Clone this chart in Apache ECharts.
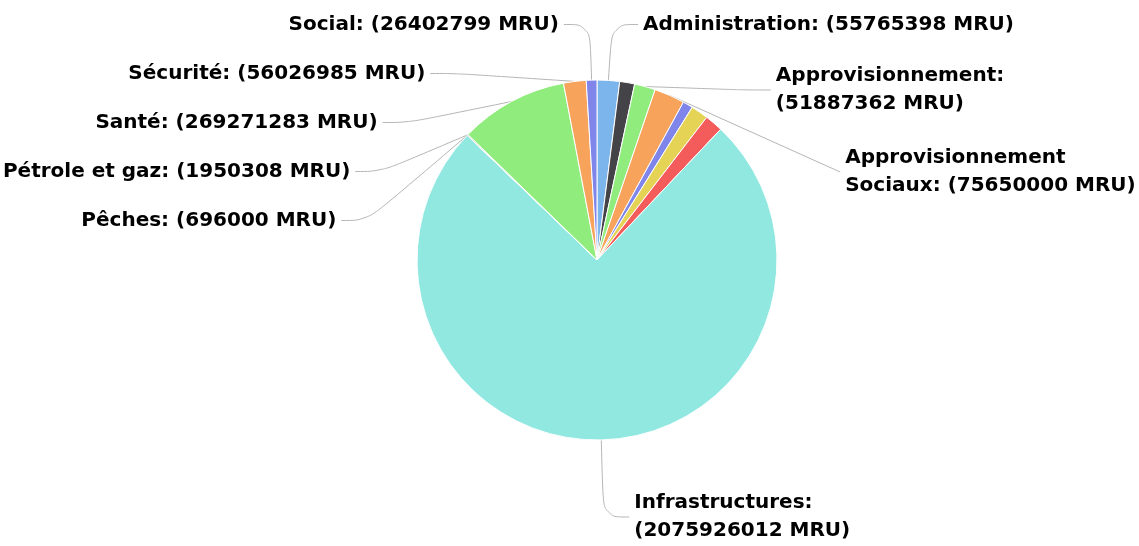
<!DOCTYPE html>
<html>
<head>
<meta charset="utf-8">
<script src="https://cdn.jsdelivr.net/npm/echarts@6/dist/echarts.min.js"></script>
<style>
  html, body { margin: 0; padding: 0; background: #fff; }
  #chart { width: 1139px; height: 546px; }
</style>
</head>
<body>
<div id="chart"></div>
<script>
// slices, clockwise from 12 o'clock (empty name = slice without a label)
const names = [
  "Administration", "", "Approvisionnement", "Approvisionnement Sociaux",
  "", "", "", "Infrastructures", "Pêches", "Pétrole et gaz",
  "Santé", "Sécurité", "Social"
];
const values = [
  55765398, 37000000, 51887362, 75650000,
  25000000, 43000000, 45000000, 2075926012, 696000, 1950308,
  269271283, 56026985, 26402799
];
const colors = [
  "#7cb5ec", "#434348", "#90ed7d", "#f7a35c",
  "#8085e9", "#e4d354", "#f45b5b", "#91e8e1", "#7cb5ec", "#434348",
  "#90ed7d", "#f7a35c", "#8085e9"
];
// labels that wrap on two lines, and their max width
const wrapWidth = { "Approvisionnement": 240, "Approvisionnement Sociaux": 310, "Infrastructures": 230 };

const chart = echarts.init(document.getElementById("chart"));

const data = names.map((n, i) => {
  const item = { name: n, value: values[i], itemStyle: { color: colors[i] } };
  if (n === "") {
    item.label = { show: false };
    item.labelLine = { show: false };
    return item;
  }
  if (wrapWidth[n]) {
    item.label = { width: wrapWidth[n], overflow: "break", padding: [12, 0] };
  }
  // keep label order the same as the slice order on the right side
  if (n === "Approvisionnement") item.labelLine = { length: 40 };
  if (n === "Approvisionnement Sociaux") item.labelLine = { length: 40, length2: 44 };
  if (n === "Infrastructures") {
    item.label.padding = 0;
    item.labelLine = { length: 82 };
  }
  return item;
});

chart.setOption({
  animation: false,
  series: [
    {
      type: "pie",
      center: [597, 260],
      radius: 180,
      startAngle: 90,
      clockwise: true,
      itemStyle: { borderColor: "#fff", borderWidth: 1 },
      label: {
        position: "outside",
        formatter: "{b}: ({c} MRU)",
        fontFamily: "DejaVu Sans",
        fontSize: 20,
        fontWeight: "bold",
        color: "#000",
        lineHeight: 28,
        width: 420,
        overflow: "none",
        padding: [9.5, 0],
        backgroundColor: "rgba(255,255,255,0)"
      },
      labelLine: {
        length: 58,
        length2: 26,
        smooth: 0.4,
        lineStyle: { color: "#b5b5b5", width: 1 }
      },
      emphasis: { disabled: true },
      data: data
    }
  ]
});
</script>
</body>
</html>
